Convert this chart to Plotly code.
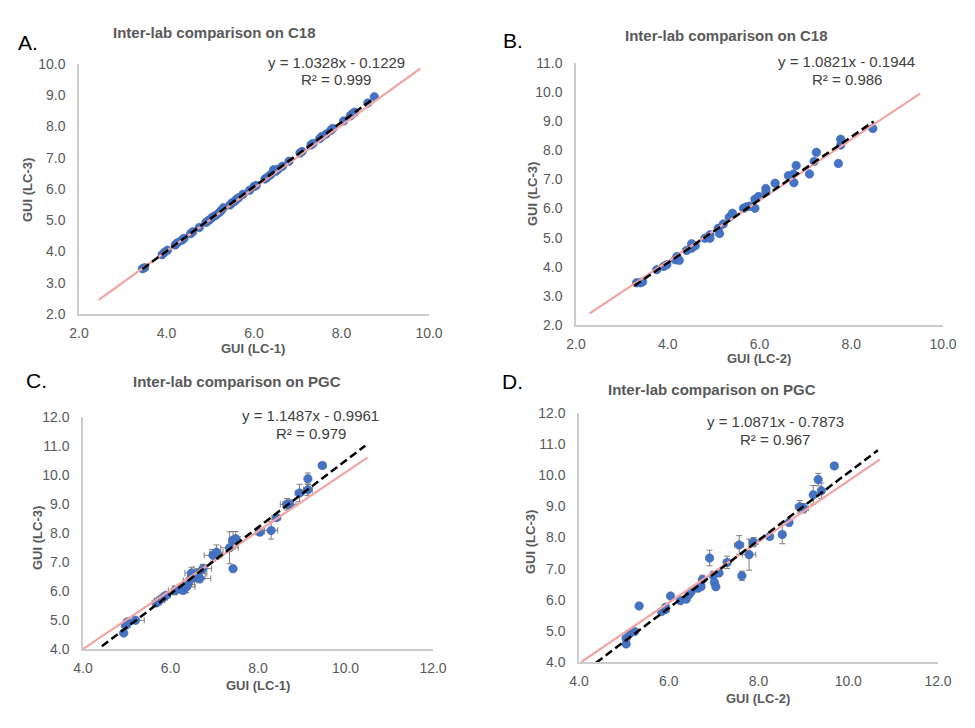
import plotly.graph_objects as go

# ---------------- data ----------------
# Panel A: C18, LC-1 vs LC-3
A_x = [3.45, 3.50, 3.90, 3.95, 4.02, 4.20, 4.25, 4.35, 4.40, 4.55, 4.60, 4.75, 4.90, 4.95,
       5.00, 5.05, 5.12, 5.20, 5.25, 5.30, 5.45, 5.50, 5.55, 5.60, 5.65, 5.75, 5.90, 6.00,
       6.05, 6.25, 6.30, 6.38, 6.45, 6.50, 6.55, 6.65, 6.80, 7.05, 7.10, 7.30, 7.35, 7.50,
       7.55, 7.65, 7.75, 7.80, 8.05, 8.20, 8.25, 8.30, 8.60, 8.75]
A_y = [3.45, 3.48, 3.90, 3.97, 4.04, 4.21, 4.28, 4.36, 4.42, 4.57, 4.63, 4.77, 4.93, 4.98,
       5.03, 5.10, 5.15, 5.24, 5.31, 5.40, 5.49, 5.56, 5.60, 5.67, 5.72, 5.83, 5.96, 6.08,
       6.11, 6.32, 6.37, 6.46, 6.62, 6.57, 6.63, 6.73, 6.89, 7.15, 7.20, 7.41, 7.46, 7.61,
       7.68, 7.76, 7.87, 7.94, 8.18, 8.34, 8.41, 8.46, 8.75, 8.95]
A_eq = ["y = 1.0328x - 0.1229", "R² = 0.999"]
A_fit = [1.0328, -0.1229, 3.45, 8.75]          # slope, intercept, x start, x end
A_ref_x = [2.45, 9.80]
A_ref_y = [2.45, 9.85]

# Panel B: C18, LC-2 vs LC-3
B_x = [3.32, 3.40, 3.45, 3.76, 3.91, 3.98, 4.16, 4.20, 4.25, 4.41, 4.52, 4.52, 4.60, 4.81,
       4.88, 4.92, 4.92, 5.10, 5.13, 5.21, 5.34, 5.41, 5.65, 5.72, 5.78, 5.90, 5.90, 5.98,
       6.14, 6.14, 6.34, 6.63, 6.74, 6.75, 6.80, 7.09, 7.19, 7.24, 7.72, 7.77, 7.77, 8.47]
B_y = [3.45, 3.45, 3.48, 3.90, 4.01, 4.07, 4.24, 4.35, 4.22, 4.56, 4.64, 4.79, 4.72, 4.98,
       5.02, 5.10, 4.98, 5.32, 5.14, 5.47, 5.70, 5.84, 6.01, 6.06, 6.08, 6.01, 6.32, 6.41,
       6.69, 6.58, 6.87, 7.13, 7.19, 6.89, 7.48, 7.19, 7.62, 7.93, 7.55, 8.18, 8.38, 8.75]
B_eq = ["y = 1.0821x - 0.1944", "R² = 0.986"]
B_fit = [1.0821, -0.1944, 3.27, 8.49]
B_ref_x = [2.30, 9.50]
B_ref_y = [2.40, 9.95]

# Panel C: PGC, LC-1 vs LC-3
C_x = [4.93, 4.98, 5.01, 5.20, 5.68, 5.75, 5.83, 5.90, 6.10, 6.21, 6.29, 6.36, 6.40, 6.44,
       6.48, 6.59, 6.67, 6.63, 6.74, 6.97, 7.05, 7.35, 7.43, 7.49, 7.43, 8.04, 8.30, 8.42,
       8.66, 8.72, 8.95, 9.14, 9.14, 9.47]
C_y = [4.55, 4.82, 4.93, 4.99, 5.59, 5.68, 5.77, 5.85, 6.02, 6.08, 6.02, 6.14, 6.23, 6.37,
       6.62, 6.48, 6.43, 6.60, 6.77, 7.23, 7.34, 7.49, 7.75, 7.80, 6.77, 8.03, 8.09, 8.53,
       8.99, 8.99, 9.38, 9.87, 9.49, 10.33]
C_xerr = [0.05, 0.10, 0.08, 0.20, 0.10, 0.12, 0.10, 0.10, 0.15, 0.15, 0.10, 0.20, 0.15, 0.15,
          0.15, 0.20, 0.25, 0.20, 0.20, 0.20, 0.15, 0.20, 0.10, 0.10, 0.05, 0.10, 0.15, 0.10,
          0.15, 0.15, 0.10, 0.05, 0.10, 0.08]
C_yerr = [0.05, 0.10, 0.08, 0.05, 0.10, 0.10, 0.10, 0.10, 0.15, 0.15, 0.10, 0.20, 0.15, 0.15,
          0.20, 0.15, 0.15, 0.15, 0.15, 0.20, 0.25, 0.55, 0.30, 0.25, 0.05, 0.10, 0.30, 0.10,
          0.20, 0.15, 0.30, 0.20, 0.20, 0.08]
C_eq = ["y = 1.1487x - 0.9961", "R² = 0.979"]
C_fit = [1.1487, -0.9961, 4.43, 10.45]
C_ref_x = [4.00, 10.50]
C_ref_y = [4.00, 10.60]

# Panel D: PGC, LC-2 vs LC-3
D_x = [5.05, 5.05, 5.13, 5.24, 5.34, 5.84, 5.93, 5.93, 6.04, 6.26, 6.39, 6.45, 6.50, 6.65,
       6.72, 6.75, 6.91, 6.99, 7.02, 7.05, 7.12, 7.30, 7.57, 7.63, 7.79, 7.89, 8.25, 8.53,
       8.68, 8.92, 9.01, 9.22, 9.33, 9.40, 9.69]
D_y = [4.58, 4.76, 4.92, 4.98, 5.80, 5.62, 5.69, 5.76, 6.12, 5.97, 6.02, 6.16, 6.26, 6.37,
       6.42, 6.64, 7.34, 6.77, 6.55, 6.42, 6.86, 7.20, 7.76, 6.77, 7.45, 7.85, 8.03, 8.10,
       8.48, 8.99, 8.94, 9.37, 9.86, 9.50, 10.30]
D_xerr = [0.03, 0.03, 0.05, 0.05, 0.03, 0.05, 0.05, 0.05, 0.03, 0.05, 0.05, 0.05, 0.05, 0.05,
          0.05, 0.05, 0.05, 0.05, 0.05, 0.05, 0.05, 0.08, 0.10, 0.05, 0.15, 0.10, 0.05, 0.05,
          0.05, 0.10, 0.10, 0.05, 0.05, 0.05, 0.05]
D_yerr = [0.05, 0.05, 0.05, 0.05, 0.05, 0.05, 0.05, 0.05, 0.05, 0.05, 0.05, 0.05, 0.05, 0.05,
          0.05, 0.15, 0.25, 0.15, 0.10, 0.10, 0.05, 0.20, 0.30, 0.15, 0.50, 0.15, 0.05, 0.30,
          0.10, 0.20, 0.15, 0.30, 0.20, 0.25, 0.10]
D_eq = ["y = 1.0871x - 0.7873", "R² = 0.967"]
D_fit = [1.0871, -0.7873, 4.38, 10.66]
D_ref_x = [4.05, 10.70]
D_ref_y = [4.00, 10.50]

titles = ["Inter-lab comparison on C18", "Inter-lab comparison on C18",
          "Inter-lab comparison on PGC", "Inter-lab comparison on PGC"]
panel_labels = ["A.", "B.", "C.", "D."]
x_titles = ["GUI (LC-1)", "GUI (LC-2)", "GUI (LC-1)", "GUI (LC-2)"]
y_titles = ["GUI (LC-3)", "GUI (LC-3)", "GUI (LC-3)", "GUI (LC-3)"]

A_xticks = [2.0, 4.0, 6.0, 8.0, 10.0]
A_yticks = [2.0, 3.0, 4.0, 5.0, 6.0, 7.0, 8.0, 9.0, 10.0]
B_xticks = [2.0, 4.0, 6.0, 8.0, 10.0]
B_yticks = [2.0, 3.0, 4.0, 5.0, 6.0, 7.0, 8.0, 9.0, 10.0, 11.0]
C_xticks = [4.0, 6.0, 8.0, 10.0, 12.0]
C_yticks = [4.0, 5.0, 6.0, 7.0, 8.0, 9.0, 10.0, 11.0, 12.0]
D_xticks = [4.0, 6.0, 8.0, 10.0, 12.0]
D_yticks = [4.0, 5.0, 6.0, 7.0, 8.0, 9.0, 10.0, 11.0, 12.0]

# ---------------- layout helpers ----------------
W, H = 975, 728
FONT = "Liberation Sans, Arial, sans-serif"
BLUE = "#4472C4"
REF = "#F4A3A3"
GREY_TXT = "#595959"


def px(x, y):
    return x / W, 1 - y / H


# plot-area boxes in pixels: (left, top, right, bottom)
boxes = [(79, 64, 429, 314), (576, 63, 943, 325), (83, 417, 433, 649), (579, 413, 938, 662)]
ticks = [(A_xticks, A_yticks), (B_xticks, B_yticks), (C_xticks, C_yticks), (D_xticks, D_yticks)]
title_pos = [(214, 33), (726, 35), (237, 381), (712, 389)]
label_pos = [(28, 42), (513, 40), (36, 380), (512, 381)]
eq_pos = [((336, 62), (336, 79)), ((846, 61), (847, 79)), ((310, 415), (311, 433)), ((775, 421), (775, 439))]
xt_pos = [(253, 348), (759, 358), (258, 685), (758, 698)]
yt_pos = [(28, 190), (533, 194), (37, 538), (530, 542)]

panels = [
    (A_x, A_y, None, None, A_fit, A_ref_x, A_ref_y, A_eq),
    (B_x, B_y, None, None, B_fit, B_ref_x, B_ref_y, B_eq),
    (C_x, C_y, C_xerr, C_yerr, C_fit, C_ref_x, C_ref_y, C_eq),
    (D_x, D_y, D_xerr, D_yerr, D_fit, D_ref_x, D_ref_y, D_eq),
]

fig = go.Figure()
layout = dict(
    width=W, height=H, margin=dict(l=0, r=0, t=0, b=0, pad=0, autoexpand=False),
    paper_bgcolor="white", plot_bgcolor="white", showlegend=False,
    font=dict(family=FONT, color=GREY_TXT),
)
annotations = []

for i, (xs, ys, xe, ye, fit, rx, ry, eq) in enumerate(panels):
    n = "" if i == 0 else str(i + 1)
    xref, yref = "x" + n, "y" + n
    l, t, r, b = boxes[i]
    xt, yt = ticks[i]
    layout["xaxis" + n] = dict(
        domain=[l / W, r / W], anchor=yref, range=[xt[0], xt[-1]], automargin=False,
        tickmode="array", tickvals=xt, ticktext=[f"{v:.1f}" for v in xt],
        showgrid=False, zeroline=False, showline=True, linecolor="#CCCCCC", linewidth=1.5,
        ticks="", ticklabelstandoff=5, tickfont=dict(size=14, color=GREY_TXT, family=FONT),
    )
    layout["yaxis" + n] = dict(
        domain=[1 - b / H, 1 - t / H], anchor=xref, range=[yt[0], yt[-1]], automargin=False,
        tickmode="array", tickvals=yt, ticktext=[f"{v:.1f}" for v in yt],
        showgrid=False, zeroline=False, showline=True, linecolor="#CCCCCC", linewidth=1.5,
        ticks="", ticklabelstandoff=9, tickfont=dict(size=14, color=GREY_TXT, family=FONT),
    )
    err_x = dict(type="data", array=xe, color="#7F7F7F", thickness=1, width=3) if xe else None
    err_y = dict(type="data", array=ye, color="#7F7F7F", thickness=1, width=3) if ye else None
    fig.add_trace(go.Scatter(
        x=xs, y=ys, mode="markers", xaxis=xref, yaxis=yref,
        marker=dict(color=BLUE, size=8.5, line=dict(width=0.6, color="#3A64B0")),
        error_x=err_x, error_y=err_y, cliponaxis=False,
    ))
    fig.add_trace(go.Scatter(
        x=rx, y=ry, mode="lines", xaxis=xref, yaxis=yref,
        line=dict(color=REF, width=2.2),
    ))
    slope, icpt, x0, x1 = fit
    fig.add_trace(go.Scatter(
        x=[x0, x1], y=[slope * x0 + icpt, slope * x1 + icpt], mode="lines",
        xaxis=xref, yaxis=yref, line=dict(color="black", width=2.5, dash="8px,4px"),
    ))

    def ann(text, pos, size, color, bold=False, angle=0):
        ax, ay = px(*pos)
        annotations.append(dict(
            text=f"<b>{text}</b>" if bold else text, x=ax, y=ay, xref="paper", yref="paper",
            showarrow=False, xanchor="center", yanchor="middle", textangle=angle,
            font=dict(size=size, color=color, family=FONT),
        ))

    ann(titles[i], title_pos[i], 15, GREY_TXT, bold=True)
    ann(panel_labels[i], label_pos[i], 21, "black")
    ann(eq[0], eq_pos[i][0], 15, "#404040")
    ann(eq[1], eq_pos[i][1], 15, "#404040")
    ann(x_titles[i], xt_pos[i], 13, GREY_TXT, bold=True)
    ann(y_titles[i], yt_pos[i], 13, GREY_TXT, bold=True, angle=-90)

layout["annotations"] = annotations
fig.update_layout(**layout)
fig.write_html(
    "out.html",
    config={"displayModeBar": False},
    post_script="document.documentElement.style.margin='0';document.documentElement.style.padding='0';"
                "document.body.style.margin='0';document.body.style.padding='0';"
                "document.body.style.overflow='hidden';",
)
